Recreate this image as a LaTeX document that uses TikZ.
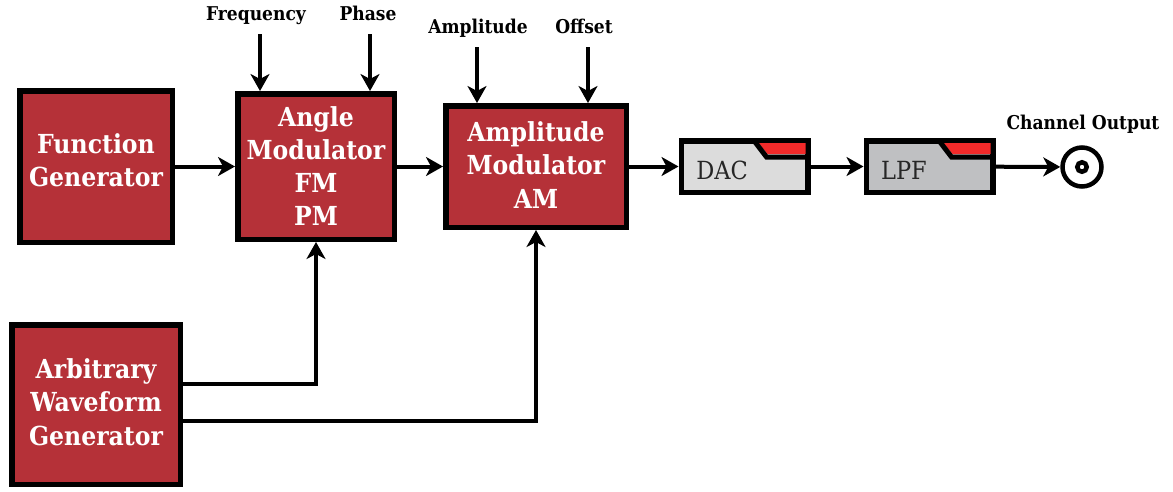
\documentclass[tikz,border=0pt]{standalone}
\usepackage{fontspec}
\setmainfont{DejaVu Serif Condensed}
\usetikzlibrary{arrows.meta}
\definecolor{blockred}{HTML}{B53138}
\definecolor{tabred}{HTML}{F22A2A}
\definecolor{dacgray}{HTML}{DCDCDC}
\definecolor{lpfgray}{HTML}{BFC0C2}
\tikzset{
  block/.style={draw=black,line width=5.5pt,fill=blockred,text=white,font=\bfseries\fontsize{26.2}{33.3}\selectfont,align=center,inner sep=0pt},
  filterbox/.style={draw=black,line width=5.5pt,minimum width=126.5pt,minimum height=51.5pt,inner sep=0pt},
  caption/.style={font=\bfseries\fontsize{19}{23}\selectfont,inner sep=0pt,anchor=base},
  boxtext/.style={font=\fontsize{25}{30}\selectfont,text=black!85,inner sep=0pt},
  sig/.style={line width=4pt,-{Stealth[length=17pt,width=19pt,inset=5pt]}}
}
\begin{document}
\begin{tikzpicture}[x=1pt,y=-1pt]
  \useasboundingbox (0,0) rectangle (1173,491);
  \node[block,minimum width=152.5pt,minimum height=151.5pt,text depth=13pt] (func) at (96,166.5) {Function\\Generator};
  \node[block,minimum width=156.5pt,minimum height=145.5pt,text depth=1pt] (angle) at (316,166.5) {Angle\\Modulator\\FM\\PM};
  \node[block,minimum width=180.5pt,minimum height=121.5pt,text depth=3pt] (ampl) at (536,166.5) {Amplitude\\Modulator\\AM};
  \node[block,minimum width=168.5pt,minimum height=159.5pt,text depth=5pt] (arb) at (96,404.5) {Arbitrary\\Waveform\\Generator};
  \node[filterbox,fill=dacgray] (dac) at (744.5,166.5) {};
  \node[filterbox,fill=lpfgray] (lpf) at (929.5,166.5) {};
  \foreach \boxname in {dac,lpf} {
    \fill[tabred] ([shift={(-52,5)}]\boxname.north east) -- ([shift={(-5,5)}]\boxname.north east) -- ([shift={(-5,16)}]\boxname.north east) -- ([shift={(-43,16)}]\boxname.north east) -- cycle;
    \draw[line width=5pt,line join=miter] ([shift={(-57,2)}]\boxname.north east) -- ([shift={(-44,19)}]\boxname.north east) -- ([shift={(-2,19)}]\boxname.north east);
  }
  \node[boxtext] (dactext) at (722,170) {DAC};
  \node[boxtext] (lpftext) at (904,170) {LPF};
  \node[circle,draw=black,line width=4.5pt,minimum size=39pt,inner sep=0pt] (out) at (1082,167) {};
  \node[circle,draw=black,line width=4.5pt,minimum size=9.5pt,inner sep=0pt] (outpin) at (1082,167) {};
  \node[caption] (freqlabel) at (256,20) {Frequency};
  \node[caption] (phaselabel) at (368,20) {Phase};
  \node[caption] (ampllabel) at (478,33) {Amplitude};
  \node[caption] (offlabel) at (584,33) {Offset};
  \node[caption] (outlabel) at (1083,129) {Channel Output};
  \coordinate (freqtop) at (260,34);
  \coordinate (phasetop) at (370,34);
  \coordinate (ampltop) at (477,47);
  \coordinate (offtop) at (588,47);
  \coordinate (arbup) at ([shift={(0,-20.5)}]arb.east);
  \coordinate (arbdown) at ([shift={(0,16.5)}]arb.east);
  \begin{scope}[sig]
    \draw (func) to (angle);
    \draw (angle) to (ampl);
    \draw (ampl) to (dac);
    \draw (dac) to (lpf);
    \draw (lpf) to (out);
    \draw (freqtop) to (freqtop |- angle.north);
    \draw (phasetop) to (phasetop |- angle.north);
    \draw (ampltop) to (ampltop |- ampl.north);
    \draw (offtop) to (offtop |- ampl.north);
    \draw (arbup) -| (angle.south);
    \draw (arbdown) -| (ampl.south);
  \end{scope}
\end{tikzpicture}
\end{document}
